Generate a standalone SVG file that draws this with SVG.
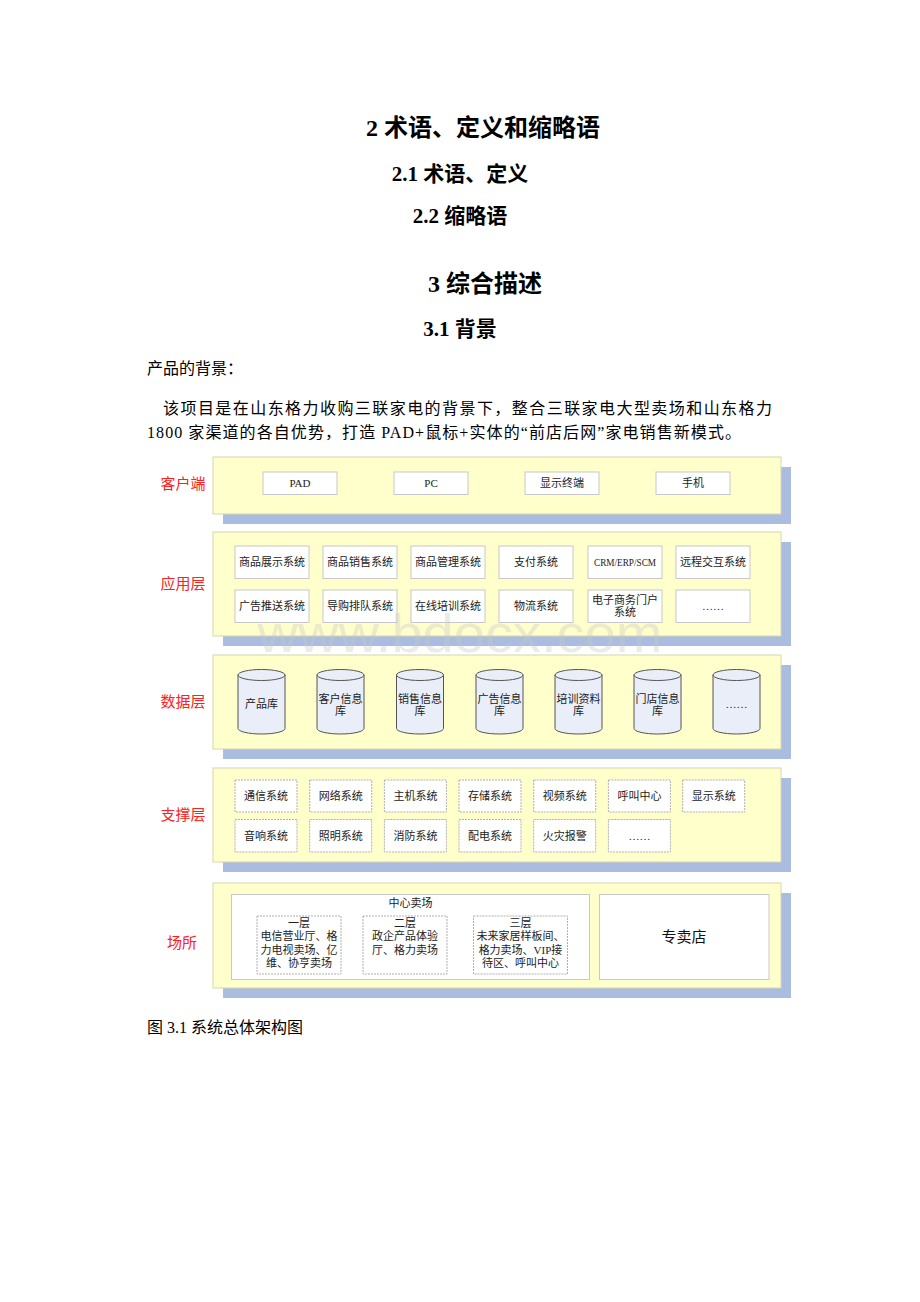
<svg xmlns="http://www.w3.org/2000/svg" width="920" height="1302" viewBox="0 0 920 1302">
<style>
.h1{font-family:"Liberation Serif","Noto Sans CJK SC",serif;font-weight:bold;font-size:24px;fill:#000;text-anchor:middle}
.h2{font-family:"Liberation Serif","Noto Sans CJK SC",serif;font-weight:bold;font-size:21px;fill:#000;text-anchor:middle}
.body{font-family:"Liberation Serif","Noto Sans CJK SC",serif;font-size:16px;fill:#000}
.lbl{font-family:"Liberation Sans","Noto Sans CJK SC",sans-serif;font-size:15px;fill:#ff2020;text-anchor:middle}
.t{font-family:"Liberation Serif","Noto Sans CJK SC",serif;font-size:11px;fill:#222;text-anchor:middle}
.big{font-family:"Liberation Serif","Noto Sans CJK SC",serif;font-size:15px;fill:#111;text-anchor:middle}
.shadow{fill:#aabcdf}
.panel{fill:#ffffcc;stroke:#d6d6b0;stroke-width:1}
.box{fill:#fff;stroke:#c8c8c8;stroke-width:1}
.dbox{fill:#fff;stroke:#b0b0b0;stroke-width:1;stroke-dasharray:2,1}
.cyl{fill:#e9eef8;stroke:#555;stroke-width:1}
.wm{font-family:"Liberation Sans",sans-serif;font-size:54px;fill:#c8c8c8;opacity:0.35;text-anchor:middle}
</style>

<rect width="920" height="1302" fill="#fff"/>

<g id="headings">
<text class="h1" x="483" y="136">2 术语、定义和缩略语</text>
<text class="h2" x="460" y="181">2.1 术语、定义</text>
<text class="h2" x="460" y="223">2.2 缩略语</text>
<text class="h1" x="485" y="292">3 综合描述</text>
<text class="h2" x="460" y="336">3.1 背景</text>
<text class="body" x="147" y="374">产品的背景：</text>
<text class="body" x="163" y="414" textLength="609" lengthAdjust="spacing">该项目是在山东格力收购三联家电的背景下，整合三联家电大型卖场和山东格力</text>
<text class="body" x="147" y="438" textLength="594" lengthAdjust="spacing">1800 家渠道的各自优势，打造 PAD+鼠标+实体的“前店后网”家电销售新模式。</text>
</g>

<g id="layer-client">
<rect class="shadow" x="223" y="467" width="568" height="57"/>
<rect class="panel" x="213" y="457" width="568" height="57"/>
<text class="lbl" x="183" y="489">客户端</text>
<rect class="box" x="263" y="472" width="74" height="22.5"/><text class="t" x="300" y="487">PAD</text>
<rect class="box" x="394" y="472" width="74" height="22.5"/><text class="t" x="431" y="487">PC</text>
<rect class="box" x="525" y="472" width="74" height="22.5"/><text class="t" x="562" y="487">显示终端</text>
<rect class="box" x="656" y="472" width="74" height="22.5"/><text class="t" x="693" y="487">手机</text>
</g>

<g id="layer-app">
<rect class="shadow" x="223" y="542" width="568" height="104"/>
<rect class="panel" x="213" y="532" width="568" height="104"/>
<text class="lbl" x="183" y="589">应用层</text>
<rect class="box" x="235" y="546" width="74" height="32.5"/><text class="t" x="272" y="566">商品展示系统</text>
<rect class="box" x="323" y="546" width="74" height="32.5"/><text class="t" x="360" y="566">商品销售系统</text>
<rect class="box" x="411" y="546" width="74" height="32.5"/><text class="t" x="448" y="566">商品管理系统</text>
<rect class="box" x="499" y="546" width="74" height="32.5"/><text class="t" x="536" y="566">支付系统</text>
<rect class="box" x="588" y="546" width="74" height="32.5"/><text class="t" x="625" y="566" textLength="62" lengthAdjust="spacingAndGlyphs">CRM/ERP/SCM</text>
<rect class="box" x="676" y="546" width="74" height="32.5"/><text class="t" x="713" y="566">远程交互系统</text>
<rect class="box" x="235" y="590" width="74" height="32.5"/><text class="t" x="272" y="610">广告推送系统</text>
<rect class="box" x="323" y="590" width="74" height="32.5"/><text class="t" x="360" y="610">导购排队系统</text>
<rect class="box" x="411" y="590" width="74" height="32.5"/><text class="t" x="448" y="610">在线培训系统</text>
<rect class="box" x="499" y="590" width="74" height="32.5"/><text class="t" x="536" y="610">物流系统</text>
<rect class="box" x="588" y="590" width="74" height="32.5"/><text class="t" x="625" y="603.5">电子商务门户</text><text class="t" x="625" y="616">系统</text>
<rect class="box" x="676" y="590" width="74" height="32.5"/><text class="t" x="713" y="610">……</text>
</g>

<g id="layer-data">
<rect class="shadow" x="223" y="665" width="568" height="94"/>
<rect class="panel" x="213" y="655" width="568" height="94"/>
<text class="lbl" x="183" y="707">数据层</text>
<g id="db1"><path class="cyl" d="M238,675 L238,728.5 A23.5,5.5 0 0 0 285,728.5 L285,675 Z"/><ellipse class="cyl" cx="261.5" cy="675" rx="23.5" ry="5.5"/><text class="t" x="261.5" y="707.5">产品库</text></g>
<g id="db2"><path class="cyl" d="M317,675 L317,728.5 A23.5,5.5 0 0 0 364,728.5 L364,675 Z"/><ellipse class="cyl" cx="340.5" cy="675" rx="23.5" ry="5.5"/><text class="t" x="340.5" y="702.5">客户信息</text><text class="t" x="340.5" y="714.5">库</text></g>
<g id="db3"><path class="cyl" d="M396.5,675 L396.5,728.5 A23.5,5.5 0 0 0 443.5,728.5 L443.5,675 Z"/><ellipse class="cyl" cx="420" cy="675" rx="23.5" ry="5.5"/><text class="t" x="420" y="702.5">销售信息</text><text class="t" x="420" y="714.5">库</text></g>
<g id="db4"><path class="cyl" d="M476,675 L476,728.5 A23.5,5.5 0 0 0 523,728.5 L523,675 Z"/><ellipse class="cyl" cx="499.5" cy="675" rx="23.5" ry="5.5"/><text class="t" x="499.5" y="702.5">广告信息</text><text class="t" x="499.5" y="714.5">库</text></g>
<g id="db5"><path class="cyl" d="M555,675 L555,728.5 A23.5,5.5 0 0 0 602,728.5 L602,675 Z"/><ellipse class="cyl" cx="578.5" cy="675" rx="23.5" ry="5.5"/><text class="t" x="578.5" y="702.5">培训资料</text><text class="t" x="578.5" y="714.5">库</text></g>
<g id="db6"><path class="cyl" d="M634,675 L634,728.5 A23.5,5.5 0 0 0 681,728.5 L681,675 Z"/><ellipse class="cyl" cx="657.5" cy="675" rx="23.5" ry="5.5"/><text class="t" x="657.5" y="702.5">门店信息</text><text class="t" x="657.5" y="714.5">库</text></g>
<g id="db7"><path class="cyl" d="M713,675 L713,728.5 A23.5,5.5 0 0 0 760,728.5 L760,675 Z"/><ellipse class="cyl" cx="736.5" cy="675" rx="23.5" ry="5.5"/><text class="t" x="736.5" y="707.5">……</text></g>
</g>

<g id="layer-support">
<rect class="shadow" x="223" y="778" width="568" height="94"/>
<rect class="panel" x="213" y="768" width="568" height="94"/>
<text class="lbl" x="183" y="820">支撑层</text>
<rect class="dbox" x="235" y="780" width="62" height="32"/><text class="t" x="266" y="800">通信系统</text>
<rect class="dbox" x="309.7" y="780" width="62" height="32"/><text class="t" x="340.7" y="800">网络系统</text>
<rect class="dbox" x="384.4" y="780" width="62" height="32"/><text class="t" x="415.4" y="800">主机系统</text>
<rect class="dbox" x="459" y="780" width="62" height="32"/><text class="t" x="490" y="800">存储系统</text>
<rect class="dbox" x="533.7" y="780" width="62" height="32"/><text class="t" x="564.7" y="800">视频系统</text>
<rect class="dbox" x="608.4" y="780" width="62" height="32"/><text class="t" x="639.4" y="800">呼叫中心</text>
<rect class="dbox" x="682.7" y="780" width="62" height="32"/><text class="t" x="713.7" y="800">显示系统</text>
<rect class="dbox" x="235" y="819.5" width="62" height="32.5"/><text class="t" x="266" y="840">音响系统</text>
<rect class="dbox" x="309.7" y="819.5" width="62" height="32.5"/><text class="t" x="340.7" y="840">照明系统</text>
<rect class="dbox" x="384.4" y="819.5" width="62" height="32.5"/><text class="t" x="415.4" y="840">消防系统</text>
<rect class="dbox" x="459" y="819.5" width="62" height="32.5"/><text class="t" x="490" y="840">配电系统</text>
<rect class="dbox" x="533.7" y="819.5" width="62" height="32.5"/><text class="t" x="564.7" y="840">火灾报警</text>
<rect class="dbox" x="608.4" y="819.5" width="62" height="32.5"/><text class="t" x="639.4" y="840">……</text>
</g>

<g id="layer-venue">
<rect class="shadow" x="223" y="893" width="568" height="105"/>
<rect class="panel" x="213" y="883" width="568" height="105"/>
<text class="lbl" x="182" y="948">场所</text>
<g id="center-mall">
<rect class="box" x="231.5" y="894.5" width="358" height="85"/>
<text class="t" x="410.5" y="907">中心卖场</text>
<rect class="dbox" x="257" y="916" width="84" height="58"/>
<text class="t" x="299" y="926.5">一层</text><text class="t" x="299" y="940">电信营业厅、格</text><text class="t" x="299" y="953.5">力电视卖场、亿</text><text class="t" x="299" y="967">维、协亨卖场</text>
<rect class="dbox" x="363" y="916" width="84" height="58"/>
<text class="t" x="405" y="926.5">二层</text><text class="t" x="405" y="940">政企产品体验</text><text class="t" x="405" y="953.5">厅、格力卖场</text>
<rect class="dbox" x="473.5" y="916" width="94" height="58"/>
<text class="t" x="520.5" y="926.5">三层</text><text class="t" x="520.5" y="940">未来家居样板间、</text><text class="t" x="520.5" y="953.5">格力卖场、VIP接</text><text class="t" x="520.5" y="967">待区、呼叫中心</text>
</g>
<g id="store">
<rect class="box" x="599.5" y="894.5" width="169.5" height="85"/>
<text class="big" x="684" y="942">专卖店</text>
</g>
</g>

<text class="wm" x="460" y="652" textLength="405" lengthAdjust="spacingAndGlyphs">www.bdocx.com</text>

<text class="body" x="147" y="1033">图 3.1 系统总体架构图</text>
</svg>
